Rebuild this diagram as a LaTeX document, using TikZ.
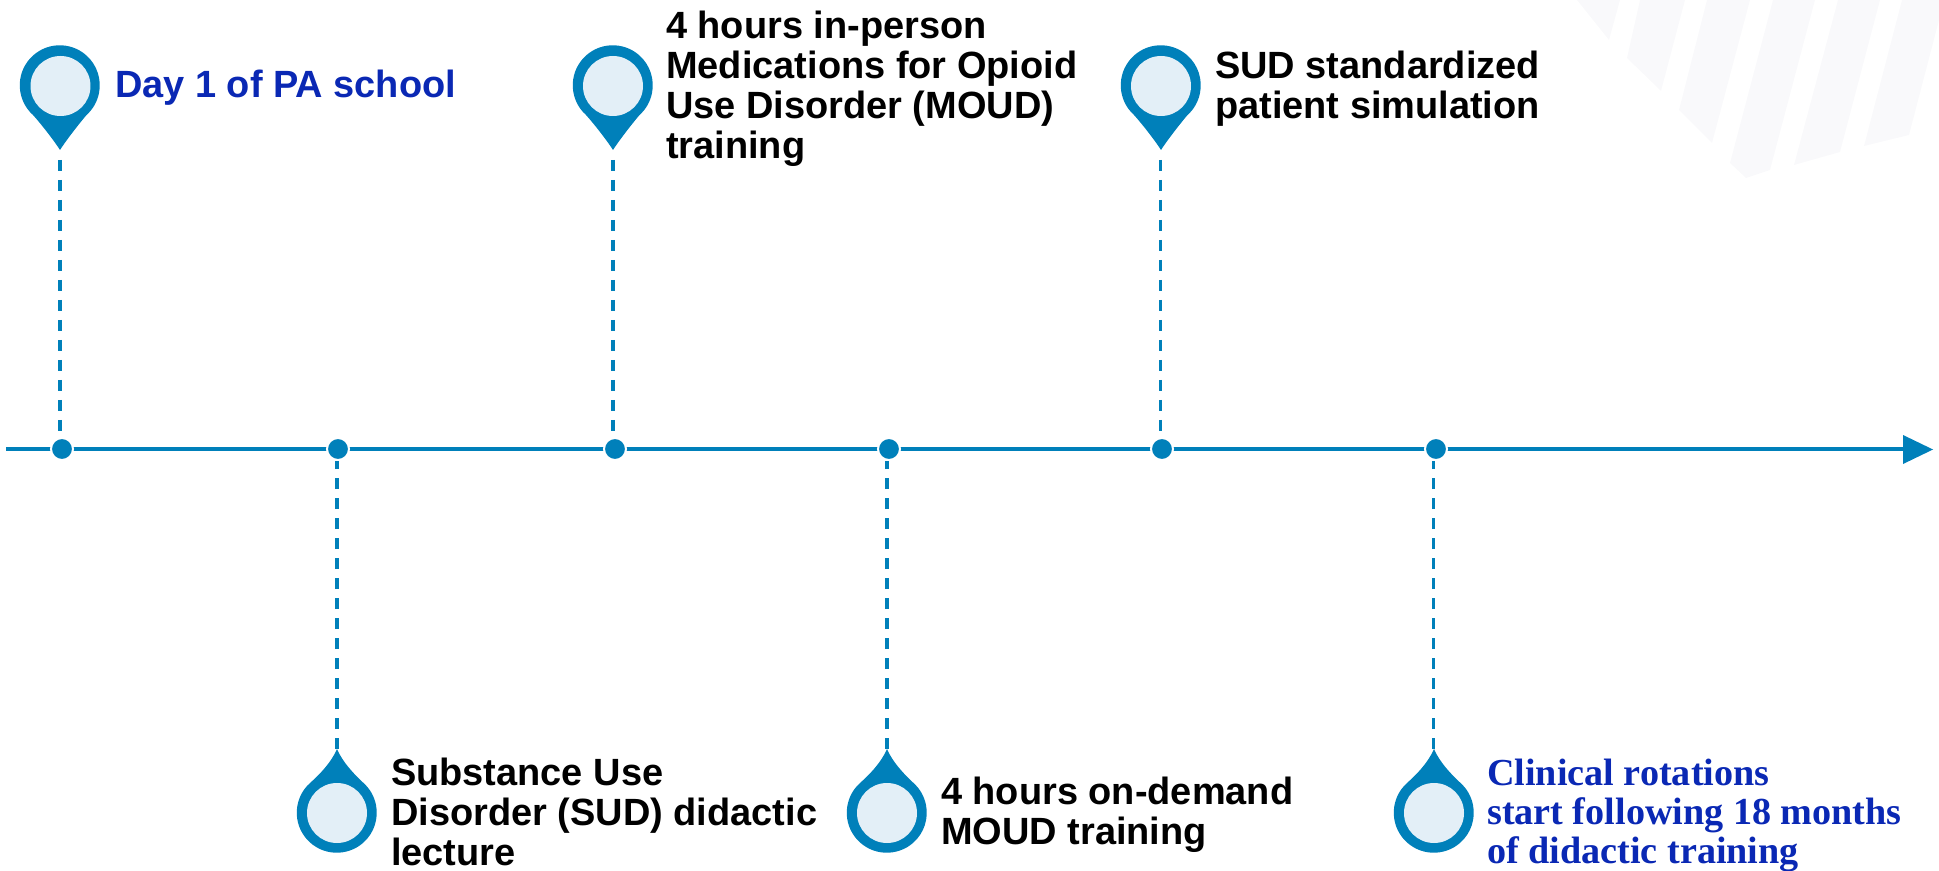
\documentclass[tikz,border=0pt]{standalone}
\usepackage{fontspec}
\setmainfont{Liberation Sans}
\newfontfamily\serifbf{Liberation Serif}
\definecolor{pinblue}{HTML}{0080BA}
\definecolor{pinfill}{HTML}{E3EFF7}
\definecolor{labelblue}{HTML}{0A28B4}
\definecolor{stripe}{HTML}{F9F9FB}
\tikzset{
  x=0.05cm,y=-0.05cm,
  dot/.style={circle,fill=pinblue,draw=white,line width=0.1cm,minimum size=1.1cm,inner sep=0pt},
  face/.style={circle,fill=pinfill,minimum size=3cm,inner sep=0pt},
  lbl/.style={font=\fontsize{54}{57}\selectfont\bfseries,align=left,anchor=west,inner sep=0pt,text=black},
  bluelbl/.style={lbl,text=labelblue},
  seriflbl/.style={font=\fontsize{54.3}{55.5}\selectfont\serifbf\bfseries,align=left,anchor=west,inner sep=0pt,text=labelblue},
  leader/.style={draw=pinblue,line width=0.185cm,dash pattern=on 0.55cm off 0.45cm},
  axis/.style={draw=pinblue,line width=0.225cm},
  pinup/.pic={\fill[pinblue] (0,65) .. controls (-5,57) and (-18,40) .. (-27,30) arc[start angle=132,end angle=408,radius=40] .. controls (18,40) and (5,57) .. (0,65) -- cycle;},
  pindown/.pic={\fill[pinblue] (0,-64) .. controls (-6,-50) and (-18,-38) .. (-27,-30) arc[start angle=228,end angle=-48,radius=40] .. controls (18,-38) and (6,-50) .. (0,-64) -- cycle;}
}
\begin{document}
\begin{tikzpicture}
\useasboundingbox (0,0) rectangle (1939,871);
% watermark
\fill[stripe] (1577,0) -- (1620,0) -- (1609,40) -- cycle;
\fill[stripe] (1640,0) -- (1685,0) -- (1661,91) -- (1627,58) -- cycle;
\fill[stripe] (1707,0) -- (1750,0) -- (1712,143) -- (1679,110) -- cycle;
\fill[stripe] (1773,0) -- (1815,0) -- (1770,170) -- (1746,178) -- (1730,163) -- cycle;
\fill[stripe] (1838,0) -- (1880,0) -- (1840,152) -- (1794,165) -- cycle;
\fill[stripe] (1902,0) -- (1939,0) -- (1939,20) -- (1909,135) -- (1864,146) -- cycle;
% axis
\coordinate (axisstart) at (6,449);
\coordinate (axisend) at (1906,449);
\draw[axis] (axisstart) -- (axisend);
\fill[pinblue] (1903,435) -- (1933,449.5) -- (1903,464) -- cycle;
% pins
\pic at (60,85) {pinup};
\pic at (613,85) {pinup};
\pic at (1161,85) {pinup};
\pic at (337,813) {pindown};
\pic at (887,813) {pindown};
\pic at (1434,813) {pindown};
\node[face] (p1) at (60.5,86) {};
\node[face] (p3) at (613,86) {};
\node[face] (p5) at (1161,86) {};
\node[face] (p2) at (337,813) {};
\node[face] (p4) at (887,813) {};
\node[face] (p6) at (1434,813) {};
\coordinate (t1) at (60,160);
\coordinate (t3) at (613,160);
\coordinate (t5) at (1160.5,160);
\coordinate (t2) at (336.7,749);
\coordinate (t4) at (886.7,749);
\coordinate (t6) at (1433.5,749);
% dots
\node[dot] (d1) at (62,449) {};
\node[dot] (d2) at (338,449) {};
\node[dot] (d3) at (615,449) {};
\node[dot] (d4) at (889,449) {};
\node[dot] (d5) at (1162,449) {};
\node[dot] (d6) at (1436,449) {};
% leaders
\draw[leader] (t1) -- (t1 |- d1.north);
\draw[leader] (t2) -- (t2 |- d2.south);
\draw[leader] (t3) -- (t3 |- d3.north);
\draw[leader] (t4) -- (t4 |- d4.south);
\draw[leader] (t5) -- (t5 |- d5.north);
\draw[leader] (t6) -- (t6 |- d6.south);
% labels
\node[bluelbl] (l1) at (115,87.5) {Day 1 of PA school};
\node[lbl] (l3) at (666,88.5) {4 hours in-person\\Medications for Opioid\\Use Disorder (MOUD)\\training};
\node[lbl] (l5) at (1215,88.5) {SUD standardized\\patient simulation};
\node[lbl] (l2) at (391,812) {Substance Use\\Disorder (SUD) didactic\\lecture};
\node[lbl] (l4) at (941,815) {4 hours on-demand\\MOUD training};
\node[seriflbl] (l6) at (1487,815) {Clinical rotations\\start following 18 months\\of didactic training};
\end{tikzpicture}
\end{document}
